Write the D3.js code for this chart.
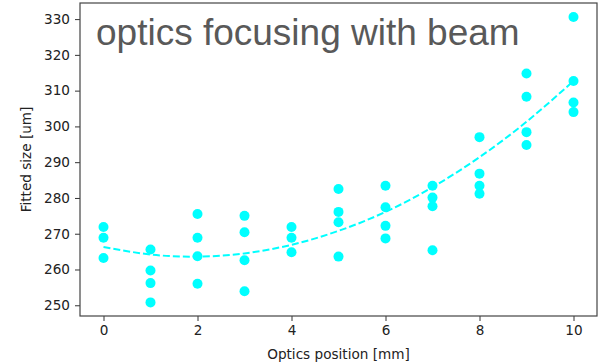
<!DOCTYPE html>
<html>
<head>
<meta charset="utf-8">
<script src="https://cdn.jsdelivr.net/npm/d3@7"></script>
<style>
  body { margin: 0; background: #fff; }
  text { font-family: "DejaVu Sans", sans-serif; }
</style>
</head>
<body>
<div id="chart"></div>
<script>
// Measured sizes per optics position (0..10 mm)
const positions = [0, 1, 2, 3, 4, 5, 6, 7, 8, 9, 10];
const sizes = [
  [271.9, 268.9, 263.2],
  [265.6, 259.7, 256.2, 250.8],
  [275.5, 268.9, 263.7, 256.0],
  [275.0, 270.4, 262.6, 253.9],
  [271.9, 268.9, 264.8],
  [282.5, 276.1, 273.2, 263.6],
  [283.4, 277.4, 272.2, 268.7],
  [283.4, 280.1, 277.7, 265.4],
  [297.0, 286.8, 283.4, 281.2],
  [314.8, 308.3, 298.4, 294.8],
  [330.6, 312.7, 306.7, 304.0]
];
// fitted curve, read at each position
const fitValues = [266.3, 264.2, 263.6, 264.5, 266.9, 270.8, 276.1, 283.0, 291.4, 301.3, 312.7];
const xTicks = [0, 2, 4, 6, 8, 10];
const yTicks = [250, 260, 270, 280, 290, 300, 310, 320, 330];

const w = 600;
const h = 364;
const plotLeft = 80, plotRight = 597, plotTop = 3, plotBottom = 316;

const points = [];
positions.forEach((p, i) => sizes[i].forEach(v => points.push([p, v])));

const xScale = d3.scaleLinear().domain([-0.5, 10.5]).range([plotLeft, plotRight]);
const yScale = d3.scaleLinear().domain([247.0, 334.5]).range([plotBottom, plotTop]);

const svg = d3.select("#chart")
  .append("svg")
  .attr("width", w)
  .attr("height", h);

// points
svg.append("g")
  .selectAll("circle")
  .data(points)
  .enter()
  .append("circle")
  .attr("cx", d => xScale(d[0]))
  .attr("cy", d => yScale(d[1]))
  .attr("r", 5)
  .style("fill", "#00ffff");

// fit line
const line = d3.line()
  .x((d, i) => xScale(positions[i]))
  .y(d => yScale(d))
  .curve(d3.curveNatural);

svg.append("path")
  .datum(fitValues)
  .attr("d", line)
  .attr("fill", "none")
  .attr("stroke", "#00ffff")
  .attr("stroke-width", 2)
  .attr("stroke-dasharray", "7,3");

// axes
const xAxis = d3.axisBottom(xScale).tickValues(xTicks).tickSize(5).tickPadding(4);
const yAxis = d3.axisLeft(yScale).tickValues(yTicks).tickSize(5).tickPadding(5);

const gx = svg.append("g")
  .attr("transform", `translate(0, ${plotBottom})`)
  .call(xAxis);
const gy = svg.append("g")
  .attr("transform", `translate(${plotLeft}, 0)`)
  .call(yAxis);

[gx, gy].forEach(g => {
  g.select(".domain").remove();
  g.selectAll("line").attr("stroke", "#333");
  g.selectAll("text").style("font-size", "13.6px").attr("fill", "#222")
    .style("font-family", "DejaVu Sans, sans-serif");
});

// frame
svg.append("rect")
  .attr("x", plotLeft)
  .attr("y", plotTop)
  .attr("width", plotRight - plotLeft)
  .attr("height", plotBottom - plotTop)
  .attr("fill", "none")
  .attr("stroke", "#444")
  .attr("stroke-width", 1.2);

// labels
svg.append("text")
  .attr("x", (plotLeft + plotRight) / 2)
  .attr("y", 359)
  .attr("text-anchor", "middle")
  .style("font-size", "13.6px")
  .attr("fill", "#222")
  .text("Optics position [mm]");

svg.append("text")
  .attr("transform", `translate(31, ${(plotTop + plotBottom) / 2}) rotate(-90)`)
  .attr("text-anchor", "middle")
  .style("font-size", "13.6px")
  .attr("fill", "#222")
  .text("Fitted size [um]");

svg.append("text")
  .attr("x", 96)
  .attr("y", 45)
  .style("font-family", "Liberation Sans, Arial, sans-serif")
  .style("font-size", "37px")
  .attr("fill", "#595959")
  .text("optics focusing with beam");
</script>
</body>
</html>
